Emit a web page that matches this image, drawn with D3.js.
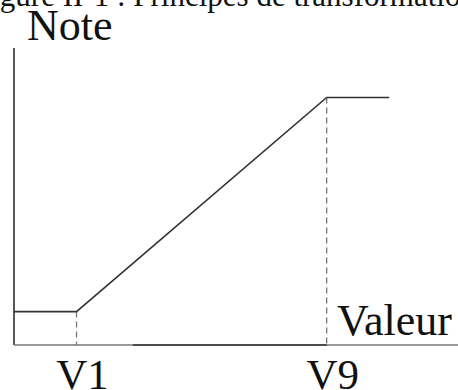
<!DOCTYPE html>
<html>
<head>
<meta charset="utf-8">
<script src="https://cdn.jsdelivr.net/npm/d3@7"></script>
<style>
  body { margin: 0; background: #fff; }
  svg { display: block; }
</style>
</head>
<body>
<div id="chart"></div>
<script>
// values (x in "decile" units, y in note units)
const valeurs = [-1, 1, 9, 11];
const notes = [2.7, 2.7, 20, 20];
const tickValues = [1, 9];
const tickLabels = ["V1", "V9"];

const width = 458, height = 390;

const svg = d3.select("#chart")
  .append("svg")
    .attr("width", width)
    .attr("height", height);

const x = d3.scaleLinear()
  .domain([-1, 13.2])
  .range([14, 458]);

const y = d3.scaleLinear()
  .domain([0, 24])
  .range([345, 48]);

const serif = "'Liberation Serif', 'DejaVu Serif', serif";

// cut-off caption at top
svg.append("text")
  .attr("x", -26)
  .attr("y", 6)
  .style("font-family", serif)
  .style("font-size", "31px")
  .style("fill", "#111")
  .text("Figure II-1 : Principes de transformation");

// axes
svg.append("line")
  .attr("x1", x(-1)).attr("x2", x(-1))
  .attr("y1", y(24)).attr("y2", y(0))
  .attr("stroke", "#444")
  .attr("stroke-width", 1.8);

svg.append("line")
  .attr("x1", x(-1)).attr("x2", x(13.2))
  .attr("y1", y(0)).attr("y2", y(0))
  .attr("stroke", "#777")
  .attr("stroke-width", 1.5);

svg.append("line")
  .attr("x1", x(2.8)).attr("x2", x(9))
  .attr("y1", y(0)).attr("y2", y(0))
  .attr("stroke", "#333")
  .attr("stroke-width", 1.6);

// dashed guides
svg.selectAll(".guide")
  .data(tickValues)
  .enter()
  .append("line")
    .attr("class", "guide")
    .attr("x1", d => x(d)).attr("x2", d => x(d))
    .attr("y1", d => y(notes[valeurs.indexOf(d)]))
    .attr("y2", y(0))
    .attr("stroke", "#777")
    .attr("stroke-width", 1.3)
    .attr("stroke-dasharray", "6,4");

// transformation curve
const pts = valeurs.map((v, i) => [v, notes[i]]);
const line = d3.line()
  .x(d => x(d[0]))
  .y(d => y(d[1]));

svg.append("path")
  .datum(pts)
  .attr("d", line)
  .attr("fill", "none")
  .attr("stroke", "#333")
  .attr("stroke-width", 1.6);

// tick labels
svg.selectAll(".tick-label")
  .data(tickValues)
  .enter()
  .append("text")
    .attr("class", "tick-label")
    .attr("x", d => x(d) + 6)
    .attr("y", 389)
    .attr("text-anchor", "middle")
    .style("font-family", serif)
    .style("font-size", "43px")
    .style("fill", "#111")
    .text((d, i) => tickLabels[i]);

// axis titles
svg.append("text")
  .attr("x", 27)
  .attr("y", 40)
  .style("font-family", serif)
  .style("font-size", "44px")
  .style("fill", "#111")
  .text("Note");

svg.append("text")
  .attr("x", 337)
  .attr("y", 335)
  .style("font-family", serif)
  .style("font-size", "44px")
  .style("fill", "#111")
  .text("Valeur");
</script>
</body>
</html>
